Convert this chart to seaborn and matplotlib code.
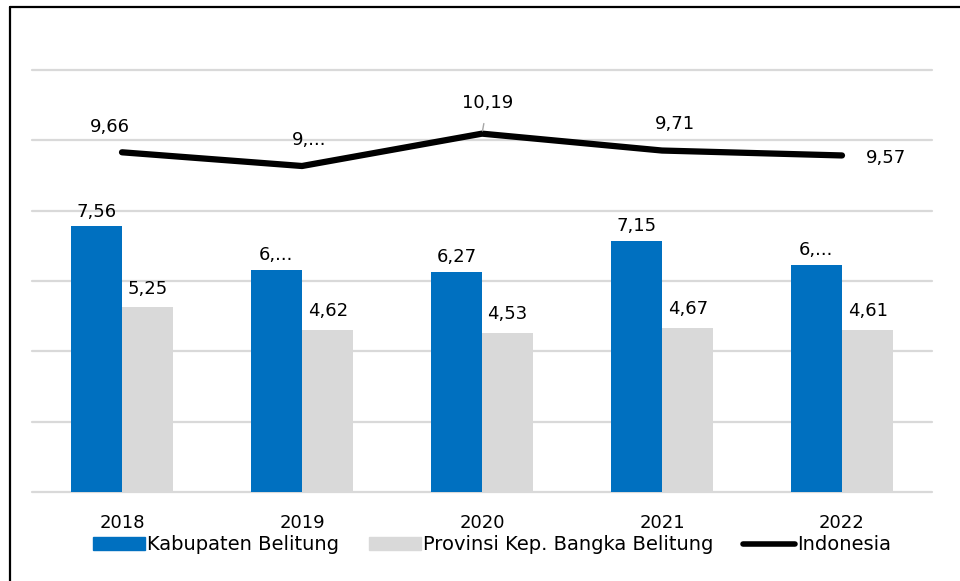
import pandas as pd
import matplotlib.pyplot as plt
import seaborn as sns
from matplotlib.patches import Patch
from matplotlib.lines import Line2D

# data
years = ['2018', '2019', '2020', '2021', '2022']
kab_belitung = [7.56, 6.32, 6.27, 7.15, 6.46]
prov_babel = [5.25, 4.62, 4.53, 4.67, 4.61]
indonesia = [9.66, 9.27, 10.19, 9.71, 9.57]
kab_labels = ['7,56', '6,...', '6,27', '7,15', '6,...']
prov_labels = ['5,25', '4,62', '4,53', '4,67', '4,61']
indo_labels = ['9,66', '9,...', '10,19', '9,71', '9,57']
series_names = ['Kabupaten Belitung', 'Provinsi Kep. Bangka Belitung', 'Indonesia']

blue = '#0070c0'
grey = '#d9d9d9'

df = pd.DataFrame({
    'year': years * 2,
    'value': kab_belitung + prov_babel,
    'series': [series_names[0]] * 5 + [series_names[1]] * 5,
})

sns.set_style('white')
plt.rcParams['font.family'] = ['DejaVu Sans']
plt.rcParams['font.size'] = 13
plt.rcParams['text.color'] = 'black'
plt.rcParams['xtick.color'] = 'black'

fig = plt.figure(figsize=(9.6, 5.81), dpi=100)
ax = fig.add_axes([32 / 960, 1 - 492 / 581, 900 / 960, 422 / 581])

sns.barplot(data=df, x='year', y='value', hue='series', palette=[blue, grey],
            width=0.57, gap=0, ax=ax, legend=False, saturation=1, linewidth=0)
sns.lineplot(x=list(range(len(years))), y=indonesia, color='black', lw=4.5,
             ax=ax, sort=False, solid_capstyle='round')

ax.set_ylim(0, 12)
ax.set_xlim(-0.5, 4.5)
ax.set_yticks(range(0, 13, 2))
ax.yaxis.grid(True, color=grey, lw=1.6)
for gl in ax.get_ygridlines():
    gl.set_clip_on(False)
ax.set_axisbelow(True)
ax.tick_params(axis='y', left=False, labelleft=False)
ax.tick_params(axis='x', bottom=False, pad=12, labelsize=13, labelcolor='black')
ax.set_xlabel('')
ax.set_ylabel('')
for sp in ax.spines.values():
    sp.set_visible(False)

# bar labels
ax.bar_label(ax.containers[0], labels=kab_labels, padding=4, fontsize=13, color='black')
ax.bar_label(ax.containers[1], labels=prov_labels, padding=7, fontsize=13, color='black')

# line labels (offsets in points)
offsets = [(-9, 18), (5, 19), (4, 22), (9, 19), (32, -2)]
for i, (lab, off) in enumerate(zip(indo_labels, offsets)):
    if i == 2:
        ax.annotate(lab, (i, indonesia[i]), xytext=off, textcoords='offset points',
                    ha='center', va='center', fontsize=13, color='black',
                    arrowprops=dict(arrowstyle='-', color='#a6a6a6', lw=1,
                                    shrinkA=6, shrinkB=2))
    else:
        ax.annotate(lab, (i, indonesia[i]), xytext=off, textcoords='offset points',
                    ha='center', va='center', fontsize=13, color='black')

handles = [Patch(color=blue), Patch(color=grey), Line2D([], [], color='black', lw=4)]
fig.legend(handles, series_names, loc='center', bbox_to_anchor=(492 / 960, 1 - 545 / 581),
           ncol=3, frameon=False, fontsize=14, handlelength=2.7, handleheight=0.65,
           handletextpad=0.1, columnspacing=1.5, borderpad=0)

# frame around the picture (left and top edges visible)
fig.add_artist(Line2D([10 / 960, 10 / 960], [0, 1 - 7 / 581], color='black', lw=1.6,
                      transform=fig.transFigure))
fig.add_artist(Line2D([10 / 960, 1], [1 - 7 / 581, 1 - 7 / 581], color='black', lw=1.6,
                      transform=fig.transFigure))

fig.savefig('out.png', dpi=100)
